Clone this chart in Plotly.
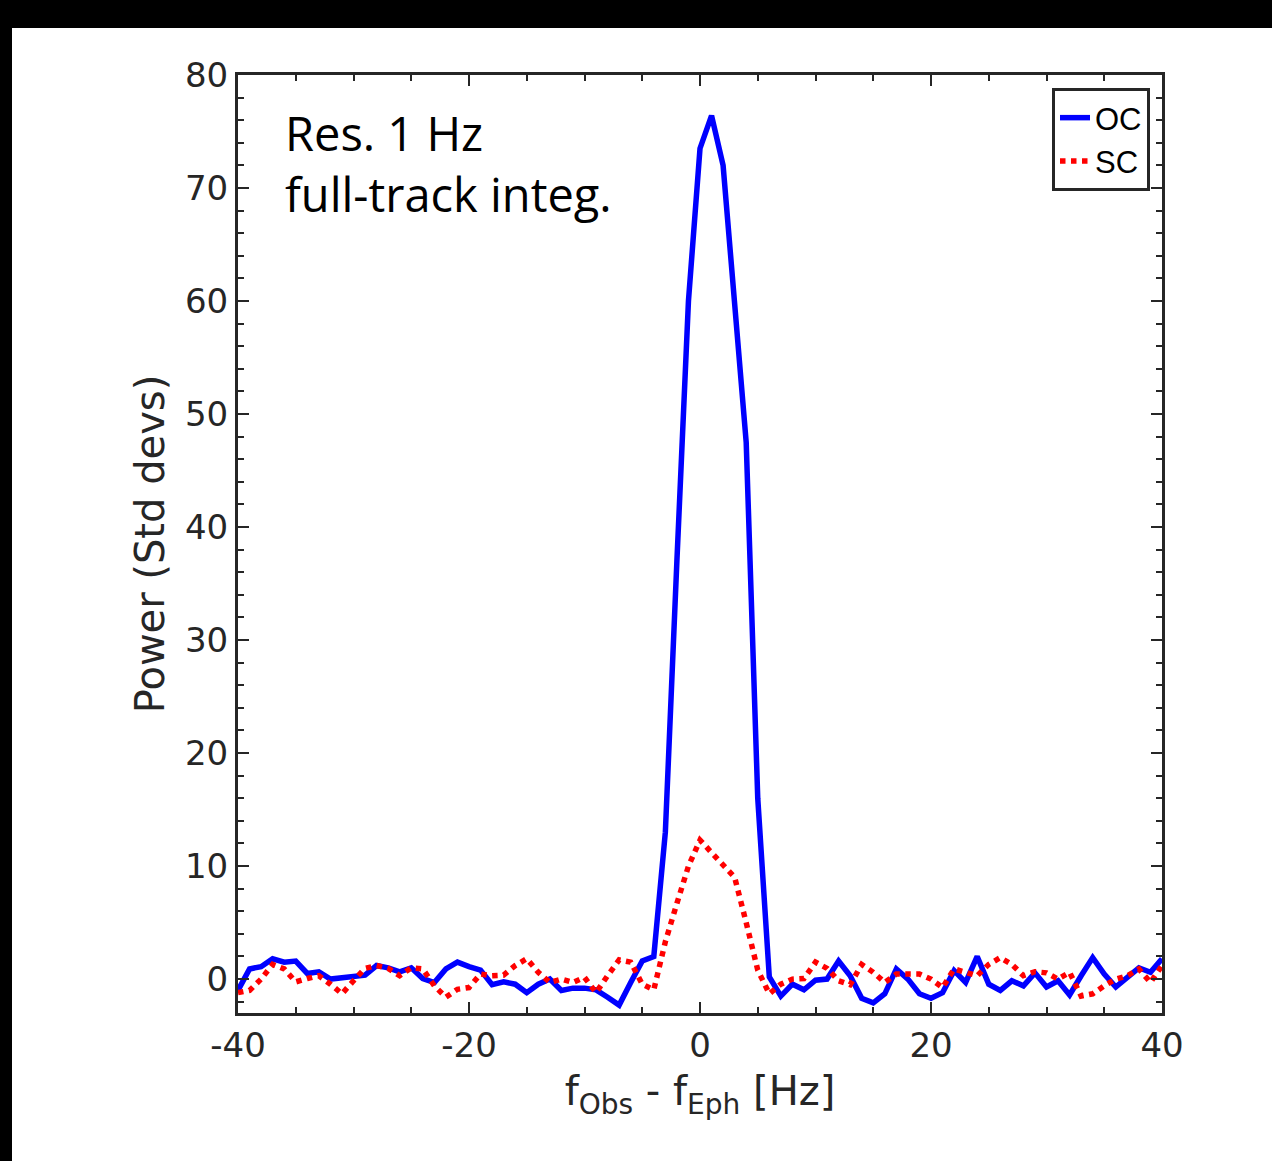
import plotly.graph_objects as go

freq = list(range(-40, 41))
oc = [-1.0, 0.9, 1.1, 1.8, 1.5, 1.6, 0.5, 0.65, 0.0, 0.1,
      0.3, 0.35, 1.2, 1.0, 0.65, 1.0, 0.05, -0.3, 0.9, 1.5,
      1.1, 0.8, -0.5, -0.25, -0.45, -1.2, -0.45, 0.0, -1.0, -0.8,
      -0.8, -0.95, -1.6, -2.3, -0.3, 1.6, 2.0, 13, 37, 60,
      73.5, 76.4, 72, 60, 47.5, 16, 0.2, -1.5, -0.45, -0.95,
      -0.1, 0.0, 1.6, 0.3, -1.7, -2.1, -1.3, 0.9, 0.0, -1.3,
      -1.7, -1.2, 0.75, -0.3, 2.0, -0.45, -1.0, -0.15, -0.6, 0.55,
      -0.7, -0.15, -1.4, 0.3, 1.9, 0.45, -0.7, 0.15, 1.0, 0.6, 1.8]
sc = [-1.2, -1.0, 0.0, 1.3, 0.9, -0.25, 0.05, 0.3, -0.45, -1.3,
      -0.15, 0.95, 1.2, 0.95, 0.3, 1.0, 0.9, -0.6, -1.6, -0.9,
      -0.75, 0.45, 0.3, 0.35, 1.2, 1.8, 0.6, -0.3, 0.0, -0.3,
      0.15, -1.2, 0.3, 1.7, 1.5, -0.45, -0.95, 3.3, 6.7, 10,
      12.3, 11.2, 10.1, 9.0, 5.0, 0.8, -1.3, -0.45, 0.0, 0.05,
      1.5, 0.95, -0.15, -0.5, 1.3, 0.6, -0.3, 0.45, 0.45, 0.45,
      0.0, -0.75, 0.9, 0.55, 0.3, 1.3, 1.9, 1.3, 0.3, 0.65,
      0.55, 0.0, 0.6, -1.5, -1.3, -0.6, 0.0, 0.3, 0.9, -0.3, 1.2]

x_ticks = [-40, -20, 0, 20, 40]
x_labels = ["-40", "-20", "0", "20", "40"]
y_ticks = [0, 10, 20, 30, 40, 50, 60, 70, 80]
y_labels = [str(v) for v in y_ticks]

W, H = 1272, 1161
L, R, T, B = 238, 110, 75, 148
pw, ph = W - L - R, H - T - B

def px(xp):
    return (xp - L) / pw

def py(yp):
    return (H - B - yp) / ph

ink = "#262626"
tfont = "DejaVu Sans"

fig = go.Figure()
fig.add_trace(go.Scatter(x=freq, y=oc, mode="lines", name="OC",
                         line=dict(color="#0000FF", width=5.5)))
fig.add_trace(go.Scatter(x=freq, y=sc, mode="lines", name="SC",
                         line=dict(color="#FF0000", width=5.5, dash="dot")))

axis_common = dict(
    showline=True, linewidth=3, linecolor=ink, mirror="allticks",
    ticks="inside", ticklen=11, tickwidth=2, tickcolor=ink,
    showgrid=False, zeroline=False,
    tickfont=dict(family=tfont, size=34, color=ink),
)

fig.update_xaxes(range=[-40, 40], tickvals=x_ticks, ticktext=x_labels,
                 minor=dict(dtick=5, ticks="inside", ticklen=6, tickwidth=2, tickcolor=ink),
                 title=dict(text="f<sub>Obs</sub> - f<sub>Eph</sub> [Hz]",
                            font=dict(family=tfont, size=40, color=ink), standoff=14),
                 **axis_common)
fig.update_yaxes(range=[-3, 80], tickvals=y_ticks, ticktext=y_labels,
                 minor=dict(tick0=0, dtick=2, ticks="inside", ticklen=6, tickwidth=2, tickcolor=ink),
                 title=dict(text="Power (Std devs)",
                            font=dict(family=tfont, size=40, color=ink), standoff=8),
                 **axis_common)

fig.add_shape(type="rect", xref="paper", yref="paper",
              x0=px(12), x1=px(W + 5), y0=py(H + 5), y1=py(28),
              fillcolor="white", line=dict(width=0), layer="below")

fig.add_annotation(xref="paper", yref="paper", x=px(283), y=py(99),
                   xanchor="left", yanchor="top", align="left", showarrow=False,
                   text="Res. 1 Hz<br>full-track integ.",
                   font=dict(family="Open Sans", size=47, color="black"))

fig.update_layout(
    width=W, height=H,
    margin=dict(l=L, r=R, t=T, b=B, autoexpand=False),
    paper_bgcolor="black", plot_bgcolor="white",
    showlegend=True,
    legend=dict(x=px(1150), y=py(88), xanchor="right", yanchor="top",
                bgcolor="white", bordercolor=ink, borderwidth=3,
                font=dict(family="Liberation Sans", size=31, color="black"),
                itemwidth=30, tracegroupgap=0),
)

fig.write_html("out.html", config={"displayModeBar": False},
               post_script="document.body.style.margin='0';document.body.style.background='black';")
